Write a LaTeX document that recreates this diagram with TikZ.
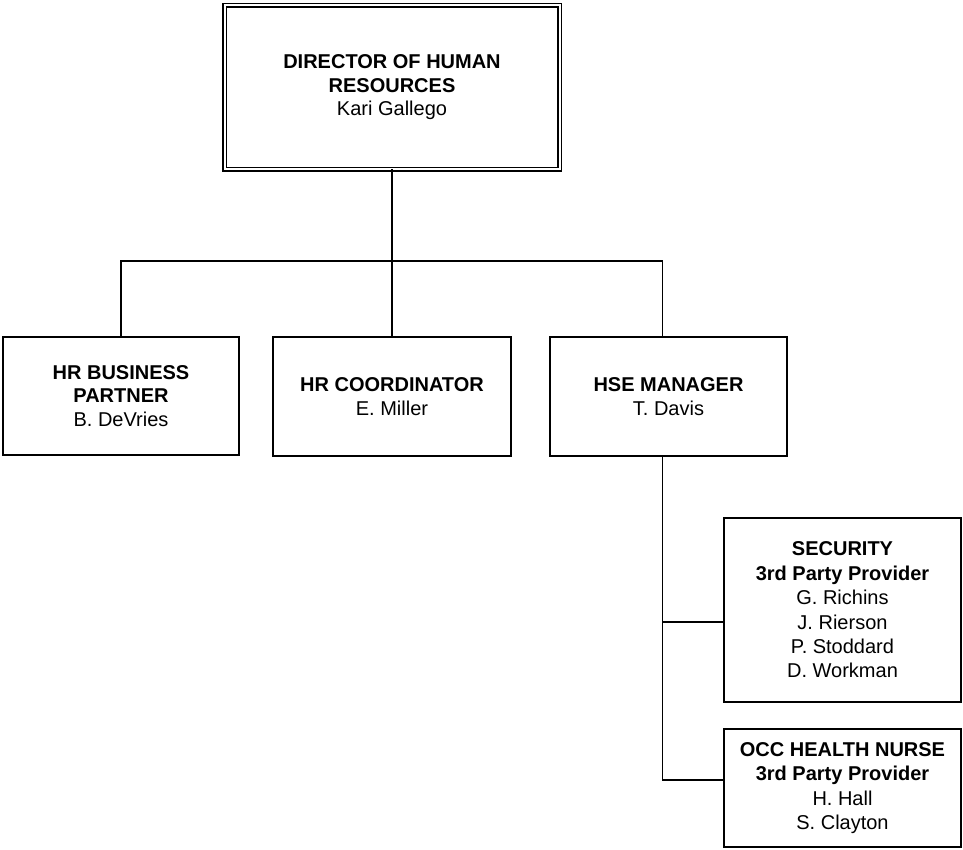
\documentclass[tikz,border=0pt]{standalone}
\usepackage{fontspec}
\setmainfont{Liberation Sans}
\begin{document}
\begin{tikzpicture}[x=1pt,y=-1pt,
  box/.style={draw=black, line width=1.8pt, fill=white, inner sep=0pt, outer sep=0pt,
    align=center, font=\fontsize{20}{23.5}\selectfont},
  dirbox/.style={box, line width=1.3pt, double=white, double distance=2pt},
  tallbox/.style={box, font=\fontsize{20}{24.4}\selectfont},
  conn/.style={draw=black, line width=1.8pt}]
\useasboundingbox (0,0) rectangle (963,850);
\fill[white] (0,0) rectangle (963,850);

\node[dirbox, minimum width=335pt, minimum height=164pt] (dir) at (392,87.5)
  {\textbf{DIRECTOR OF HUMAN}\\ \textbf{RESOURCES}\\ Kari Gallego};

\node[box, minimum width=236pt, minimum height=118pt] (bp) at (121,396)
  {\textbf{HR BUSINESS}\\ \textbf{PARTNER}\\ B. DeVries};
\node[box, minimum width=238pt, minimum height=119pt] (co) at (392,396.5)
  {\textbf{HR COORDINATOR}\\ E. Miller};
\node[box, minimum width=237pt, minimum height=119pt] (hse) at (668.5,396.5)
  {\textbf{HSE MANAGER}\\ T. Davis};

\node[tallbox, minimum width=237pt, minimum height=184pt] (sec) at (842.5,610)
  {\textbf{SECURITY}\\ \textbf{3rd Party Provider}\\ G. Richins\\ J. Rierson\\ P. Stoddard\\ D. Workman};
\node[tallbox, minimum width=237pt, minimum height=118pt] (occ) at (842.5,788)
  {\textbf{OCC HEALTH NURSE}\\ \textbf{3rd Party Provider}\\ H. Hall\\ S. Clayton};

\coordinate (bl) at (121,261);
\coordinate (br) at (662.5,261);
\coordinate (sj) at (662.5,622);
\coordinate (oj) at (662.5,780);

\draw[conn] (dir.south) -- (dir.south |- bl);
\draw[conn] (bp.north) -- (bl) -- (br) -- (br |- hse.north);
\draw[conn] (co.north) -- (co.north |- bl);
\draw[conn] (br |- hse.south) -- (oj) -- (oj -| occ.west);
\draw[conn] (sj) -- (sj -| sec.west);
\end{tikzpicture}
\end{document}
